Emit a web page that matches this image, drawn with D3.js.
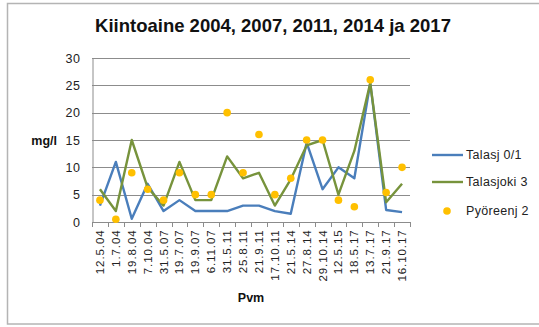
<!DOCTYPE html>
<html>
<head>
<meta charset="utf-8">
<script src="https://cdn.jsdelivr.net/npm/d3@7"></script>
<style>
  html, body { margin: 0; padding: 0; background: #fff; }
  svg { display: block; }
</style>
</head>
<body>
<svg id="chart" width="539" height="327"></svg>
<script>
// Sampling dates (x categories)
const dates = ["12.5.04", "1.7.04", "19.8.04", "7.10.04", "31.5.07", "19.7.07", "19.9.07", "6.11.07",
  "31.5.11", "25.8.11", "21.9.11", "17.10.11", "21.5.14", "27.8.14", "29.10.14", "12.5.15",
  "18.5.17", "13.7.17", "21.9.17", "16.10.17"];

// Suspended solids, mg/l
const talasj01 = [3, 11, 0.6, 7, 2, 4, 2, 2, 2, 3, 3, 2, 1.5, 14.5, 6, 10, 8, 25.4, 2.2, 1.8];
const talasjoki3 = [6, 2, 15, 6.3, 3, 11, 4, 4, 12, 8, 9, 3, 7.8, 14, 15, 5, 13, 25.4, 3.6, 7];
const pyoreenj2 = [4, 0.5, 9, 6, 4, 9, 5, 5, 20, 9, 16, 5, 8, 15, 15, 4, 2.8, 26, 5.4, 10];

const yTicks = [0, 5, 10, 15, 20, 25, 30];

const seriesNames = ["Talasj 0/1", "Talasjoki 3", "Pyöreenj 2"];
const colors = { blue: "#4A7EBB", green: "#77933C", yellow: "#FFC000" };

const svg = d3.select("#chart");
const font = "'Liberation Sans', Arial, sans-serif";

// Outer chart frame
svg.append("rect")
  .attr("x", 7.5).attr("y", 3.5)
  .attr("width", 540).attr("height", 320.5)
  .attr("fill", "#fff")
  .attr("stroke", "#b4b4b4").attr("stroke-width", 1.5);

const plot = { left: 92, right: 410, top: 58, bottom: 222 };

const x = d3.scaleBand().domain(dates).range([plot.left, plot.right]);
const y = d3.scaleLinear().domain([0, 30]).range([plot.bottom, plot.top]);
const cx = d => x(d) + x.bandwidth() / 2;

// Horizontal gridlines
svg.append("g")
  .selectAll("line")
  .data(yTicks.filter(t => t > 0))
  .join("line")
  .attr("x1", plot.left).attr("x2", plot.right)
  .attr("y1", d => Math.round(y(d)) + 0.5).attr("y2", d => Math.round(y(d)) + 0.5)
  .attr("stroke", "#8c8c8c").attr("stroke-width", 1);

// Y axis
const yAxis = svg.append("g")
  .attr("transform", `translate(${plot.left + 0.5},0)`)
  .call(d3.axisLeft(y).tickValues(yTicks).tickSize(0).tickPadding(12));
yAxis.select(".domain").attr("stroke", "#8c8c8c");
yAxis.selectAll("text")
  .attr("font-family", font).attr("font-size", 12.5)
  .attr("letter-spacing", 0.6)
  .attr("fill", "#222");

// X axis
const xAxis = svg.append("g")
  .attr("transform", `translate(0,${plot.bottom + 0.5})`)
  .call(d3.axisBottom(x).tickSize(0));
xAxis.select(".domain").attr("stroke", "#8c8c8c").attr("d", `M${plot.left},0H${plot.right}`);
xAxis.selectAll("text")
  .attr("font-family", font).attr("font-size", 11.5)
  .attr("letter-spacing", 0.9)
  .attr("fill", "#222")
  .attr("text-anchor", "end")
  .attr("transform", "rotate(-90)")
  .attr("x", -7).attr("y", 0).attr("dy", "0.35em");
// Tick marks at band boundaries
svg.append("g")
  .selectAll("line")
  .data(d3.range(dates.length + 1))
  .join("line")
  .attr("x1", i => Math.round(plot.left + i * x.step()) + 0.5)
  .attr("x2", i => Math.round(plot.left + i * x.step()) + 0.5)
  .attr("y1", plot.bottom).attr("y2", plot.bottom + 5)
  .attr("stroke", "#8c8c8c");

// Lines
const line = d3.line().x((d, i) => cx(dates[i])).y(d => y(d));
svg.append("path").datum(talasj01)
  .attr("d", line).attr("fill", "none")
  .attr("stroke", colors.blue).attr("stroke-width", 2.4).attr("stroke-linejoin", "round");
svg.append("path").datum(talasjoki3)
  .attr("d", line).attr("fill", "none")
  .attr("stroke", colors.green).attr("stroke-width", 2.4).attr("stroke-linejoin", "round");

// Points
svg.append("g")
  .selectAll("circle")
  .data(pyoreenj2)
  .join("circle")
  .attr("cx", (d, i) => cx(dates[i]))
  .attr("cy", d => y(d))
  .attr("r", 3.8)
  .attr("fill", colors.yellow);

// Title
svg.append("text")
  .attr("x", 273).attr("y", 32)
  .attr("text-anchor", "middle")
  .attr("font-family", font).attr("font-weight", "bold")
  .attr("font-size", 18.5)
  .attr("fill", "#111")
  .text("Kiintoaine 2004, 2007, 2011, 2014 ja 2017");

// Axis titles
svg.append("text")
  .attr("x", 57).attr("y", 145)
  .attr("text-anchor", "end")
  .attr("font-family", font).attr("font-weight", "bold").attr("font-size", 12.5)
  .attr("fill", "#111")
  .text("mg/l");
svg.append("text")
  .attr("x", (plot.left + plot.right) / 2).attr("y", 302)
  .attr("text-anchor", "middle")
  .attr("font-family", font).attr("font-weight", "bold").attr("font-size", 12.5)
  .attr("fill", "#111")
  .text("Pvm");

// Legend
const legend = svg.append("g");
const legendRows = [
  { name: seriesNames[0], color: colors.blue, type: "line", y: 155 },
  { name: seriesNames[1], color: colors.green, type: "line", y: 182 },
  { name: seriesNames[2], color: colors.yellow, type: "dot", y: 211 }
];
legendRows.forEach(r => {
  if (r.type === "line") {
    legend.append("line")
      .attr("x1", 432).attr("x2", 463).attr("y1", r.y).attr("y2", r.y)
      .attr("stroke", r.color).attr("stroke-width", 2.4);
  } else {
    legend.append("circle")
      .attr("cx", 447).attr("cy", r.y).attr("r", 3.8).attr("fill", r.color);
  }
  legend.append("text")
    .attr("x", 466).attr("y", r.y).attr("dy", "0.35em")
    .attr("font-family", font).attr("font-size", 12.5)
    .attr("letter-spacing", 0.3)
    .attr("fill", "#222")
    .text(r.name);
});
</script>
</body>
</html>
